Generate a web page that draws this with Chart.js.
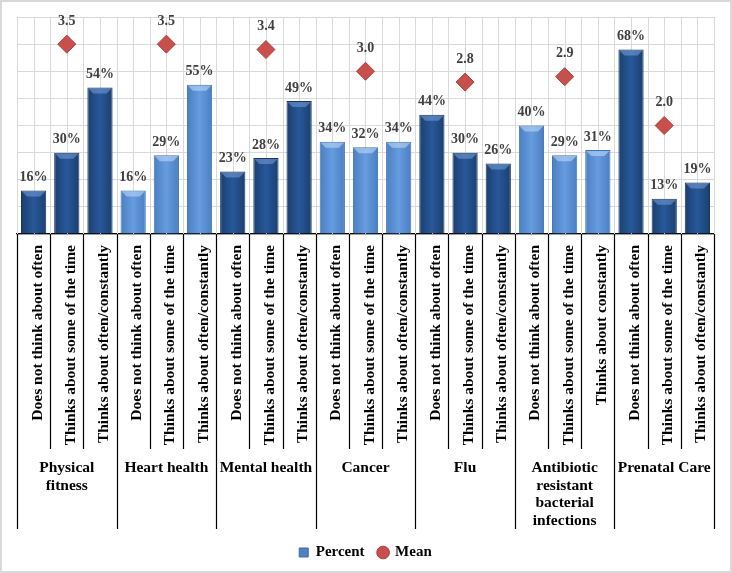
<!DOCTYPE html>
<html>
<head>
<meta charset="utf-8">
<script src="https://cdn.jsdelivr.net/npm/chart.js@4.4.1/dist/chart.umd.min.js"></script>
<style>
  html, body { margin: 0; padding: 0; background: #fff; }
  #wrap { width: 732px; height: 573px; box-sizing: border-box; border: 2px solid #d9d9d9; background: #fff; }
</style>
</head>
<body>
<div id="wrap"><canvas id="c"></canvas></div>
<script>
const groups = [
  ['Physical', 'fitness'],
  ['Heart health'],
  ['Mental health'],
  ['Cancer'],
  ['Flu'],
  ['Antibiotic', 'resistant', 'bacterial', 'infections'],
  ['Prenatal Care']
];
const subLabels = [
  'Does not think about often', 'Thinks about some of the time', 'Thinks about often/constantly',
  'Does not think about often', 'Thinks about some of the time', 'Thinks about often/constantly',
  'Does not think about often', 'Thinks about some of the time', 'Thinks about often/constantly',
  'Does not think about often', 'Thinks about some of the time', 'Thinks about often/constantly',
  'Does not think about often', 'Thinks about some of the time', 'Thinks about often/constantly',
  'Does not think about often', 'Thinks about some of the time', 'Thinks about constantly',
  'Does not think about often', 'Thinks about some of the time', 'Thinks about often/constantly'
];
const percent = [16, 30, 54, 16, 29, 55, 23, 28, 49, 34, 32, 34, 44, 30, 26, 40, 29, 31, 68, 13, 19];
const means = [3.5, 3.5, 3.4, 3.0, 2.8, 2.9, 2.0];
// mean sits on the middle bar of each group
const meanPoints = subLabels.map((_, i) => (i % 3 === 1 ? means[Math.floor(i / 3)] : null));

const FONT = '"Liberation Serif", "Times New Roman", serif';
const BAR_PCT = 0.76;

const isDark = (i) => Math.floor(i / 3) % 2 === 0;

// horizontal shading so bars look a bit rounded like the original
function barFill(context) {
  const chart = context.chart;
  const x = chart.scales.x;
  const i = context.dataIndex;
  const edge = isDark(i) ? '#1b3f6e' : '#4a7ec2';
  const mid = isDark(i) ? '#28589a' : '#669ddf';
  if (!x || !chart.chartArea) return mid;
  const w = (x.getPixelForValue(1) - x.getPixelForValue(0)) * BAR_PCT;
  const cx = x.getPixelForValue(i);
  if (!isFinite(cx) || !isFinite(w)) return mid;
  const g = chart.ctx.createLinearGradient(cx - w / 2, 0, cx + w / 2, 0);
  g.addColorStop(0, edge);
  g.addColorStop(0.5, mid);
  g.addColorStop(1, edge);
  return g;
}

const gridAndGroups = {
  id: 'gridAndGroups',
  beforeDatasetsDraw(chart) {
    const { ctx, chartArea } = chart;
    const x = chart.scales.x;
    const step = (x.getPixelForValue(1) - x.getPixelForValue(0)) / 2;
    ctx.save();
    ctx.strokeStyle = '#d9d9d9';
    ctx.lineWidth = 1;
    for (let k = 0; k <= subLabels.length * 2; k++) {
      const px = Math.round(x.getPixelForValue(0) - step + k * step) + 0.5;
      ctx.beginPath();
      ctx.moveTo(px, chartArea.top);
      ctx.lineTo(px, chartArea.bottom);
      ctx.stroke();
    }
    ctx.restore();
  },
  afterDatasetsDraw(chart) {
    // light bevel on the top of each bar
    const ctx = chart.ctx;
    ctx.save();
    chart.getDatasetMeta(0).data.forEach((bar, i) => {
      const l = bar.x - bar.width / 2 + 1, r = bar.x + bar.width / 2 - 1, t = bar.y + 1;
      ctx.fillStyle = isDark(i) ? 'rgba(120,160,215,0.55)' : 'rgba(190,215,245,0.6)';
      ctx.beginPath();
      ctx.moveTo(l, t);
      ctx.lineTo(r, t);
      ctx.lineTo(r - 5, t + 5);
      ctx.lineTo(l + 5, t + 5);
      ctx.closePath();
      ctx.fill();
    });
    ctx.restore();
  },
  afterDraw(chart) {
    const { ctx, chartArea } = chart;
    const x = chart.scales.x;
    const half = (x.getPixelForValue(1) - x.getPixelForValue(0)) / 2;
    const subBottom = chartArea.bottom + 215;
    const grpBottom = chartArea.bottom + 295;
    ctx.save();
    ctx.strokeStyle = '#000';
    ctx.lineWidth = 1.2;
    for (let i = 0; i <= subLabels.length; i++) {
      const px = Math.round(x.getPixelForValue(0) - half + i * half * 2) + 0.5;
      ctx.beginPath();
      ctx.moveTo(px, chartArea.bottom);
      ctx.lineTo(px, i % 3 === 0 ? grpBottom : subBottom);
      ctx.stroke();
    }
    ctx.fillStyle = '#000';
    ctx.font = 'bold 15.5px ' + FONT;
    ctx.textAlign = 'center';
    ctx.textBaseline = 'middle';
    groups.forEach((lines, g) => {
      const cx = (x.getPixelForValue(g * 3) + x.getPixelForValue(g * 3 + 2)) / 2;
      lines.forEach((t, j) => ctx.fillText(t, cx, subBottom + 19 + j * 17.5));
    });
    ctx.restore();
  }
};

const valueLabels = {
  id: 'valueLabels',
  afterDatasetsDraw(chart) {
    const ctx = chart.ctx;
    ctx.save();
    ctx.font = 'bold 14px ' + FONT;
    ctx.fillStyle = '#404040';
    ctx.textAlign = 'center';
    chart.getDatasetMeta(0).data.forEach((bar, i) => {
      ctx.textBaseline = 'bottom';
      ctx.fillText(percent[i] + '%', bar.x, bar.y - 6);
    });
    chart.getDatasetMeta(1).data.forEach((pt, i) => {
      const v = meanPoints[i];
      if (v == null) return;
      ctx.textBaseline = 'middle';
      ctx.fillText(v.toFixed(1), pt.x, pt.y - 23);
    });
    ctx.restore();
  }
};

new Chart(document.getElementById('c'), {
  data: {
    labels: subLabels,
    datasets: [
      {
        type: 'bar',
        label: 'Percent',
        data: percent,
        backgroundColor: barFill,
        borderColor: percent.map((_, i) => (isDark(i) ? '#173864' : '#4272b0')),
        borderWidth: 1,
        barPercentage: BAR_PCT,
        categoryPercentage: 1,
        yAxisID: 'y'
      },
      {
        type: 'line',
        label: 'Mean',
        data: meanPoints,
        showLine: false,
        pointStyle: 'rectRot',
        pointRadius: 9,
        pointBackgroundColor: '#c8504c',
        pointBorderColor: '#a9403c',
        pointBorderWidth: 1,
        yAxisID: 'y1'
      }
    ]
  },
  options: {
    responsive: true,
    maintainAspectRatio: false,
    animation: false,
    layout: { padding: { left: 15, right: 16, top: 15, bottom: 1 } },
    plugins: {
      tooltip: { enabled: false },
      legend: {
        position: 'bottom',
        labels: {
          usePointStyle: true,
          boxWidth: 9,
          boxHeight: 9,
          padding: 14,
          color: '#000',
          font: { family: FONT, size: 15, weight: 'bold' },
          generateLabels(chart) {
            const items = Chart.defaults.plugins.legend.labels.generateLabels(chart);
            items[0].pointStyle = 'rect';
            items[0].fillStyle = '#4f81bd';
            items[0].strokeStyle = '#3d6ca5';
            items[1].pointStyle = 'circle';
            items[1].fillStyle = '#c8504c';
            items[1].strokeStyle = '#a9403c';
            return items;
          }
        }
      }
    },
    scales: {
      x: {
        offset: true,
        grid: { display: false },
        border: { display: true, color: '#000', width: 1.2 },
        ticks: {
          autoSkip: false,
          maxRotation: 90,
          minRotation: 90,
          padding: 3,
          labelOffset: 4,
          color: '#000',
          font: { family: FONT, size: 15.5, weight: 'bold' }
        },
        afterFit(scale) { scale.height = 297; }
      },
      y: {
        min: 0,
        max: 80,
        ticks: { stepSize: 10, display: false },
        grid: { color: '#d9d9d9', drawTicks: false },
        border: { display: false }
      },
      y1: {
        display: false,
        min: 0,
        max: 4
      }
    }
  },
  plugins: [gridAndGroups, valueLabels]
});
</script>
</body>
</html>
